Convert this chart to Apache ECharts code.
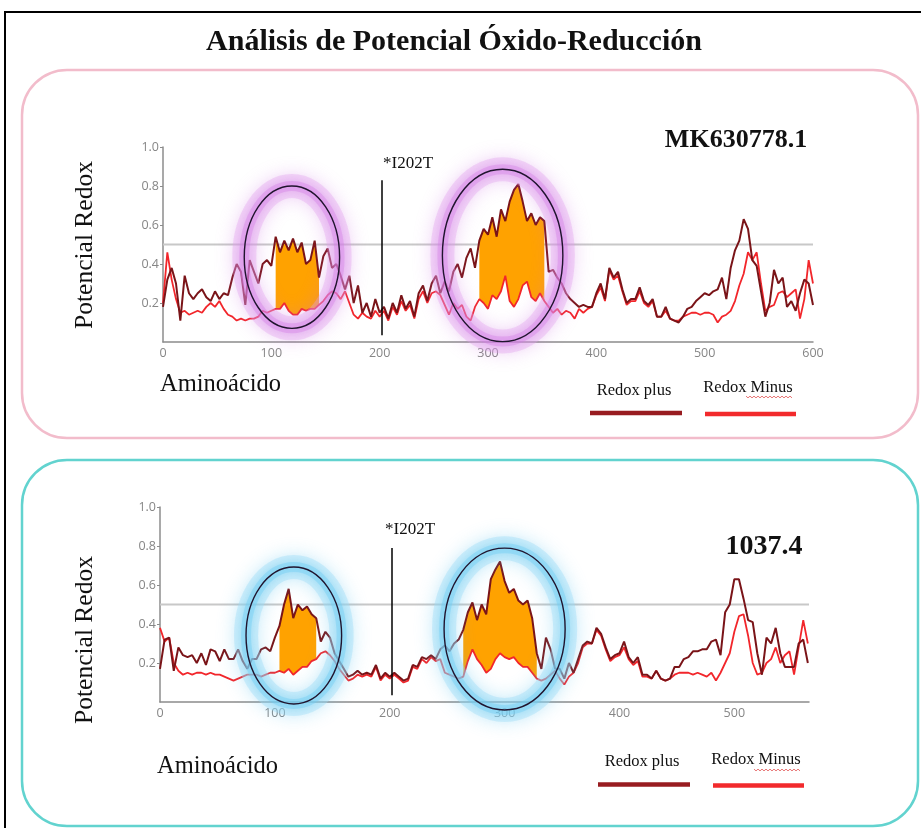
<!DOCTYPE html>
<html>
<head>
<meta charset="utf-8">
<script src="https://cdn.jsdelivr.net/npm/echarts@6/dist/echarts.min.js"></script>
<style>
html,body{margin:0;padding:0;background:#fff;}
#chart{width:921px;height:828px;}
</style>
</head>
<body>
<div id="chart"></div>
<script>
// residue step between samples
const STEP = 4;
const THRESHOLD = 0.5;
const MUTATION = 202;

// MK630778.1 (top), residues 0..600
const topPlus = [
0.18,0.32,0.38,0.30,0.11,0.34,0.25,0.22,0.25,0.27,0.23,0.21,0.26,0.22,0.25,0.24,0.33,0.40,0.36,0.19,
0.42,0.36,0.30,0.40,0.42,0.39,0.54,0.46,0.52,0.47,0.53,0.46,0.51,0.40,0.42,0.52,0.33,0.44,0.48,0.38,
0.40,0.34,0.27,0.34,0.20,0.29,0.15,0.20,0.13,0.22,0.15,0.18,0.12,0.20,0.15,0.24,0.17,0.21,0.13,0.25,
0.29,0.21,0.30,0.34,0.25,0.31,0.26,0.36,0.40,0.33,0.43,0.48,0.38,0.52,0.58,0.55,0.64,0.54,0.68,0.62,
0.72,0.78,0.81,0.72,0.62,0.66,0.60,0.64,0.62,0.36,0.37,0.33,0.30,0.25,0.22,0.20,0.18,0.19,0.18,0.18,
0.25,0.30,0.22,0.38,0.33,0.36,0.27,0.20,0.22,0.22,0.28,0.21,0.19,0.22,0.13,0.13,0.18,0.12,0.11,0.10,
0.13,0.17,0.18,0.21,0.23,0.25,0.24,0.26,0.27,0.33,0.22,0.38,0.47,0.52,0.63,0.58,0.42,0.39,0.26,0.13,
0.20,0.37,0.30,0.33,0.18,0.21,0.16,0.25,0.32,0.30,0.19];
const topMinus = [
0.20,0.46,0.32,0.22,0.15,0.16,0.14,0.15,0.16,0.15,0.18,0.20,0.18,0.21,0.17,0.14,0.13,0.11,0.12,0.11,
0.12,0.12,0.13,0.16,0.15,0.16,0.17,0.17,0.20,0.16,0.14,0.14,0.17,0.16,0.17,0.17,0.19,0.21,0.24,0.26,
0.25,0.22,0.26,0.20,0.14,0.12,0.15,0.13,0.12,0.16,0.13,0.16,0.11,0.18,0.14,0.21,0.16,0.19,0.12,0.22,
0.26,0.20,0.25,0.26,0.24,0.19,0.14,0.20,0.17,0.19,0.13,0.11,0.18,0.22,0.20,0.17,0.24,0.22,0.26,0.34,
0.21,0.18,0.22,0.29,0.31,0.23,0.21,0.25,0.21,0.18,0.15,0.17,0.14,0.16,0.15,0.12,0.17,0.15,0.17,0.18,
0.24,0.28,0.21,0.37,0.32,0.34,0.26,0.19,0.21,0.21,0.26,0.20,0.18,0.21,0.13,0.13,0.16,0.12,0.11,0.11,
0.13,0.14,0.15,0.15,0.14,0.15,0.15,0.14,0.10,0.13,0.14,0.16,0.21,0.29,0.35,0.46,0.42,0.46,0.30,0.16,
0.18,0.19,0.25,0.26,0.23,0.25,0.27,0.12,0.22,0.42,0.30];

// 1037.4 (bottom), residues 0..564
const bottomPlus = [
0.17,0.32,0.33,0.16,0.28,0.24,0.23,0.24,0.20,0.25,0.19,0.27,0.26,0.21,0.27,0.22,0.22,0.27,0.21,0.17,
0.22,0.22,0.27,0.28,0.26,0.33,0.39,0.50,0.58,0.43,0.50,0.47,0.49,0.45,0.43,0.31,0.36,0.33,0.25,0.21,
0.17,0.13,0.14,0.16,0.14,0.15,0.14,0.19,0.12,0.15,0.13,0.15,0.13,0.11,0.12,0.19,0.18,0.23,0.22,0.24,
0.22,0.27,0.29,0.26,0.30,0.32,0.37,0.46,0.51,0.42,0.50,0.45,0.63,0.68,0.72,0.62,0.56,0.58,0.52,0.50,
0.52,0.43,0.25,0.17,0.33,0.27,0.17,0.17,0.12,0.20,0.15,0.22,0.29,0.31,0.30,0.38,0.35,0.28,0.22,0.24,
0.25,0.31,0.23,0.20,0.23,0.14,0.14,0.12,0.16,0.12,0.11,0.12,0.18,0.18,0.22,0.23,0.26,0.26,0.27,0.27,
0.31,0.32,0.24,0.46,0.50,0.63,0.63,0.53,0.42,0.41,0.25,0.14,0.33,0.30,0.38,0.25,0.18,0.18,0.18,0.30,
0.32,0.20];
const bottomMinus = [
0.38,0.31,0.33,0.20,0.16,0.14,0.15,0.14,0.15,0.15,0.14,0.15,0.14,0.14,0.13,0.12,0.11,0.12,0.13,0.14,
0.14,0.14,0.13,0.14,0.15,0.15,0.16,0.15,0.17,0.14,0.16,0.18,0.18,0.21,0.22,0.25,0.26,0.24,0.21,0.17,
0.14,0.11,0.12,0.14,0.13,0.14,0.13,0.18,0.11,0.14,0.12,0.14,0.12,0.10,0.11,0.18,0.17,0.22,0.20,0.23,
0.21,0.22,0.15,0.14,0.13,0.12,0.13,0.21,0.27,0.22,0.19,0.15,0.17,0.22,0.25,0.23,0.22,0.23,0.20,0.18,
0.18,0.15,0.12,0.11,0.12,0.14,0.16,0.12,0.09,0.13,0.15,0.20,0.28,0.30,0.30,0.37,0.34,0.27,0.21,0.23,
0.24,0.28,0.22,0.19,0.21,0.13,0.13,0.12,0.16,0.12,0.11,0.12,0.14,0.15,0.15,0.15,0.14,0.15,0.14,0.13,
0.15,0.11,0.15,0.20,0.25,0.36,0.44,0.45,0.34,0.20,0.14,0.15,0.20,0.22,0.28,0.20,0.24,0.26,0.14,0.28,
0.42,0.30];

// highlighted regions (residue ranges) and circled zones [cx, cy, rx, ry] in data units
const topFills = [[104,144],[292,352]];
const bottomFills = [[104,136],[264,328]];
const topEllipses = [[119,0.435,44,0.365],[313.5,0.444,55.6,0.442]];
const bottomEllipses = [[116.5,0.341,41.6,0.351],[300,0.374,52.7,0.415]];

const PLUS_COLOR = '#7a1418';
const MINUS_COLOR = '#f2262b';
const FILL_COLOR = '#ffa200';
const SERIF = '"Liberation Serif","Times New Roman",serif';

const chart = echarts.init(document.getElementById('chart'));

function toPairs(arr){ return arr.map((v,k)=>[k*STEP, v]); }

function axesFor(idx, xmax){
  return {
    x: {type:'value', gridIndex:idx, min:0, max:xmax, interval:100,
        axisLine:{lineStyle:{color:'#8c8c8c', width:1.5}},
        axisTick:{show:false},
        axisLabel:{color:'#868686', fontSize:12.5, fontFamily:'"Open Sans",sans-serif', margin:5, showMaxLabel: xmax % 100 === 0},
        splitLine:{show:false}},
    y: {type:'value', gridIndex:idx, min:0, max:1, interval:0.2,
        axisLine:{show:true, lineStyle:{color:'#8c8c8c', width:1.5}},
        axisTick:{show:true, length:3, lineStyle:{color:'#8c8c8c'}},
        axisLabel:{color:'#868686', fontSize:12.5, fontFamily:'"Open Sans",sans-serif', margin:4,
                   showMinLabel:false, formatter:v=>v.toFixed(1)},
        splitLine:{show:false}}
  };
}

function fillSeries(idx, plus, minus, ranges){
  return {type:'custom', xAxisIndex:idx, yAxisIndex:idx, z:2, silent:true,
    data: ranges.map((r,i)=>[i]),
    renderItem:(params, api)=>{
      const r = ranges[params.dataIndex];
      const i0 = r[0]/STEP, i1 = r[1]/STEP;
      const pts = [];
      for(let k=i0;k<=i1;k++) pts.push(api.coord([k*STEP, plus[k]]));
      for(let k=i1;k>=i0;k--) pts.push(api.coord([k*STEP, minus[k]]));
      return {type:'polygon', shape:{points:pts}, style:{fill:FILL_COLOR}};
    }};
}

function ellipseSeries(idx, ellipses, glowOuter, glowInner, glowShadow){
  return {type:'custom', xAxisIndex:idx, yAxisIndex:idx, z:10, silent:true, clip:false,
    data: ellipses,
    renderItem:(params, api)=>{
      const c = api.coord([api.value(0), api.value(1)]);
      const s = api.size([api.value(2), api.value(3)]);
      const shape = {cx:c[0], cy:c[1], rx:s[0], ry:s[1]};
      return {type:'group', children:[
        {type:'ellipse', shape:shape, style:{fill:'none', stroke:glowOuter, lineWidth:24, shadowBlur:18, shadowColor:glowShadow}},
        {type:'ellipse', shape:shape, style:{fill:'none', stroke:glowInner, lineWidth:10, shadowBlur:10, shadowColor:glowShadow}},
        {type:'ellipse', shape:shape, style:{fill:'none', stroke:'#20142e', lineWidth:1.4}}
      ]};
    }};
}

function chartSeries(idx, plus, minus, fills, ellipses, xmax, mutTop, glowOuter, glowInner, glowShadow){
  return [
    {type:'line', xAxisIndex:idx, yAxisIndex:idx, z:1, silent:true, showSymbol:false,
     data:[[0,THRESHOLD],[xmax,THRESHOLD]], lineStyle:{color:'#c8c8c8', width:2}},
    fillSeries(idx, plus, minus, fills),
    {type:'line', name:'Redox Minus', xAxisIndex:idx, yAxisIndex:idx, z:3, showSymbol:false, silent:true,
     data:toPairs(minus), lineStyle:{color:MINUS_COLOR, width:1.8}},
    {type:'line', name:'Redox plus', xAxisIndex:idx, yAxisIndex:idx, z:4, showSymbol:false, silent:true,
     data:toPairs(plus), lineStyle:{color:PLUS_COLOR, width:2},
     markLine:{silent:true, symbol:'none', label:{show:false},
       lineStyle:{color:'#000', width:1.5, type:'solid'},
       data:[[{coord:[MUTATION,0.035]},{coord:[MUTATION,mutTop]}]]}},
    ellipseSeries(idx, ellipses, glowOuter, glowInner, glowShadow)
  ];
}

const a0 = axesFor(0, 600), a1 = axesFor(1, 565);

function legend(plusX, plusY, plusLineY, minusX, minusY, minusLineY){
  return [
    {type:'text', x:plusX+37, y:plusY, style:{text:'Redox plus', font:'16.5px '+SERIF, fill:'#111', align:'center', verticalAlign:'middle'}},
    {type:'rect', shape:{x:plusX-7, y:plusLineY-2.2, width:92, height:4.5}, style:{fill:'#981c20'}},
    {type:'text', x:minusX+45, y:minusY, style:{text:'Redox Minus', font:'16.5px '+SERIF, fill:'#111', align:'center', verticalAlign:'middle'}},
    {type:'rect', shape:{x:minusX+2, y:minusLineY-2.2, width:91, height:4.5}, style:{fill:'#f22a2c'}}
  ];
}

const graphics = [
  {type:'rect', shape:{x:5, y:12, width:960, height:860}, style:{fill:'none', stroke:'#000', lineWidth:2}, z:-1},
  {type:'rect', shape:{x:22, y:70, width:896, height:368, r:45}, style:{fill:'none', stroke:'#f2bccb', lineWidth:2.5}},
  {type:'rect', shape:{x:22, y:460, width:896, height:366, r:45}, style:{fill:'none', stroke:'#62d3cf', lineWidth:2.5}},
  {type:'text', x:454, y:42, style:{text:'Análisis de Potencial Óxido-Reducción', font:'bold 30px '+SERIF, fill:'#111', align:'center', verticalAlign:'middle'}},
  {type:'text', x:736, y:140, style:{text:'MK630778.1', font:'bold 26px '+SERIF, fill:'#111', align:'center', verticalAlign:'middle'}},
  {type:'text', x:764, y:547, style:{text:'1037.4', font:'bold 28px '+SERIF, fill:'#111', align:'center', verticalAlign:'middle'}},
  {type:'text', x:383, y:164, style:{text:'*I202T', font:'17px '+SERIF, fill:'#111', align:'left', verticalAlign:'middle'}},
  {type:'text', x:385, y:530, style:{text:'*I202T', font:'17px '+SERIF, fill:'#111', align:'left', verticalAlign:'middle'}},
  {type:'text', x:85, y:245, rotation:Math.PI/2, style:{text:'Potencial Redox', font:'25.5px '+SERIF, fill:'#111', align:'center', verticalAlign:'middle'}},
  {type:'text', x:85, y:640, rotation:Math.PI/2, style:{text:'Potencial Redox', font:'25.5px '+SERIF, fill:'#111', align:'center', verticalAlign:'middle'}},
  {type:'text', x:160, y:385, style:{text:'Aminoácido', font:'24.5px '+SERIF, fill:'#111', align:'left', verticalAlign:'middle'}},
  {type:'text', x:157, y:767, style:{text:'Aminoácido', font:'24.5px '+SERIF, fill:'#111', align:'left', verticalAlign:'middle'}},
  ...legend(597, 391, 413, 703, 387.5, 414),
  ...legend(605, 762, 784.5, 711, 760, 785.5)
];

// spell-check squiggles under "Minus"
function squiggle(x0, y0, len){
  const pts = [];
  for(let i=0;i<=len/2;i++) pts.push([x0+i*2, y0+(i%2?1:-1)*0.9]);
  return {type:'polyline', shape:{points:pts}, style:{stroke:'#e05050', lineWidth:0.8, fill:'none'}};
}
graphics.push(squiggle(746, 397, 46));
graphics.push(squiggle(754, 770, 46));

chart.setOption({
  animation:false,
  backgroundColor:'#fff',
  grid:[
    {left:163, top:147, width:650, height:195},
    {left:160, top:507, width:649, height:195}
  ],
  xAxis:[a0.x, a1.x],
  yAxis:[a0.y, a1.y],
  series:[
    ...chartSeries(0, topPlus, topMinus, topFills, topEllipses, 600, 0.83,
      'rgba(225,160,238,0.35)', 'rgba(210,120,230,0.35)', 'rgba(205,110,228,0.8)'),
    ...chartSeries(1, bottomPlus, bottomMinus, bottomFills, bottomEllipses, 565, 0.79,
      'rgba(160,222,248,0.4)', 'rgba(110,205,242,0.4)', 'rgba(90,195,240,0.8)')
  ],
  graphic:graphics
});
</script>
</body>
</html>
